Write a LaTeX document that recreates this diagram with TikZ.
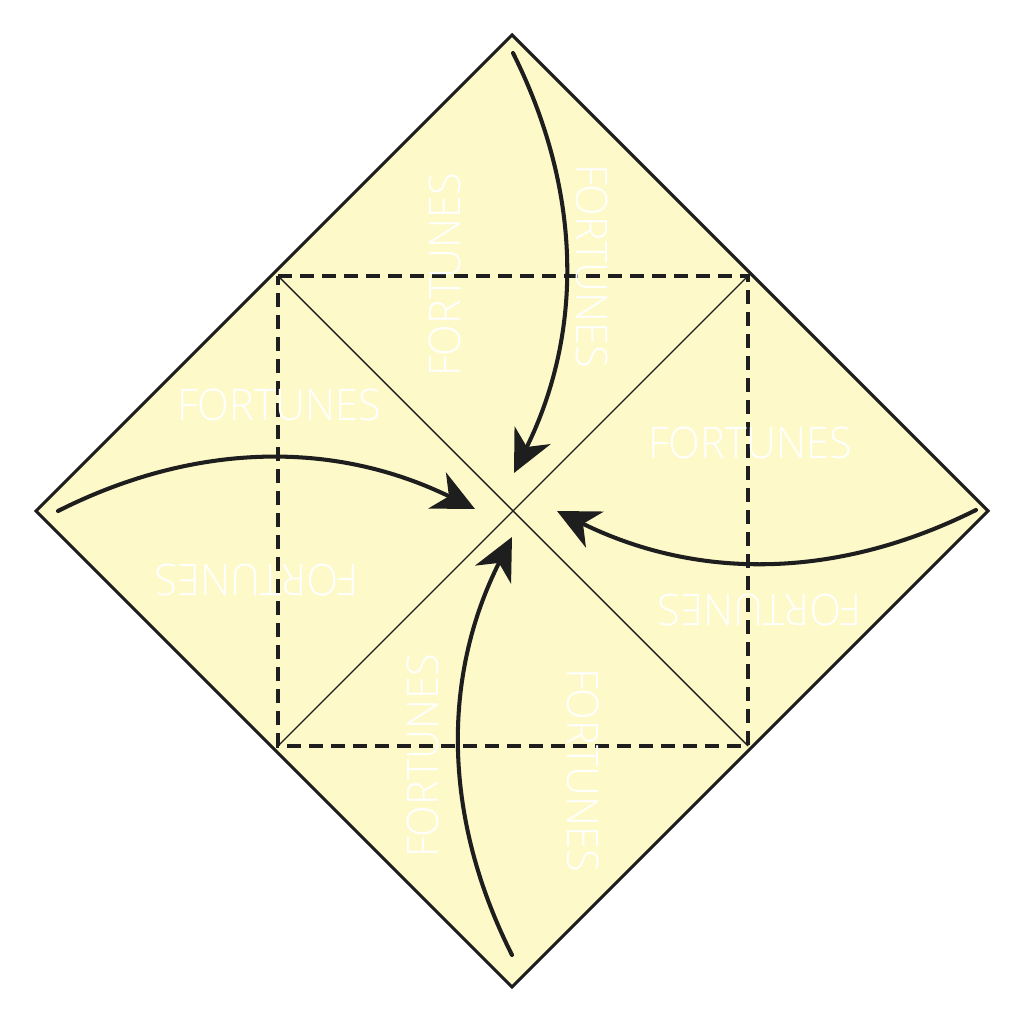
\documentclass[tikz,border=0pt]{standalone}
\usepackage{fontspec}
\IfFontExistsTF{Open Sans Light}
  {\newfontfamily\fortfont{Open Sans Light}[FakeStretch=0.95]}
  {\IfFontExistsTF{Lato Light}
     {\newfontfamily\fortfont{Lato Light}}
     {\newfontfamily\fortfont{Open Sans}[FakeStretch=0.92]}}
\usetikzlibrary{arrows.meta}
\definecolor{paper}{HTML}{FEF9C9}
\definecolor{ink}{HTML}{1E1E1E}
\tikzset{
  outline/.style={draw=ink, line width=0.9pt, line join=miter, fill=paper},
  foldline/.style={draw=ink, line width=1.15pt, dash pattern=on 0.14cm off 0.08cm},
  diagline/.style={draw=ink, line width=0.4pt},
  turnarrow/.style={draw=ink, line width=1.15pt, line cap=round, -{Stealth[length=0.42cm, width=0.4cm, inset=0.13cm]}},
  fortune/.style={text=white, font=\fortfont\fontsize{12.4pt}{13pt}\selectfont, inner sep=0pt}
}
\begin{document}
\begin{tikzpicture}[x=0.01cm, y=0.01cm]
\useasboundingbox (0,0) rectangle (1024,1024);
% paper
\coordinate (T) at (512,989);
\coordinate (R) at (988,513);
\coordinate (B) at (512,37);
\coordinate (L) at (36,513);
\coordinate (C) at (512,513);
\draw[outline] (T) -- (R) -- (B) -- (L) -- cycle;
% inner square corners
\coordinate (TL) at (278,748);
\coordinate (TR) at (748,748);
\coordinate (BR) at (748,278);
\coordinate (BL) at (278,278);
\draw[diagline] (TL) -- (BR);
\draw[diagline] (TR) -- (BL);
\draw[foldline] (TL) -- (TR) -- (BR) -- (BL) -- cycle;
% labels
\node[fortune, rotate=90] (f1) at (445,749) {FORTUNES};
\node[fortune, rotate=-90] (f2) at (592,758) {FORTUNES};
\node[fortune] (f3) at (279,619) {FORTUNES};
\node[fortune, rotate=180] (f4) at (257,444) {FORTUNES};
\node[fortune] (f5) at (750,581) {FORTUNES};
\node[fortune, rotate=180] (f6) at (760,414) {FORTUNES};
\node[fortune, rotate=90] (f7) at (423,268) {FORTUNES};
\node[fortune, rotate=-90] (f8) at (583,254) {FORTUNES};
% arrows
\coordinate (a1s) at (513,971); \coordinate (a1e) at (514,551);
\coordinate (a2s) at (58,513);  \coordinate (a2e) at (475,515);
\coordinate (a3s) at (976,514); \coordinate (a3e) at (557,513);
\coordinate (a4s) at (512,69);  \coordinate (a4e) at (512,487);
\draw[turnarrow] (a1s) .. controls (583,831) and (583,691) .. (a1e);
\draw[turnarrow] (a2s) .. controls (197,583) and (336,583) .. (a2e);
\draw[turnarrow] (a3s) .. controls (836,444) and (697,444) .. (a3e);
\draw[turnarrow] (a4s) .. controls (442,208) and (442,348) .. (a4e);
\end{tikzpicture}
\end{document}
